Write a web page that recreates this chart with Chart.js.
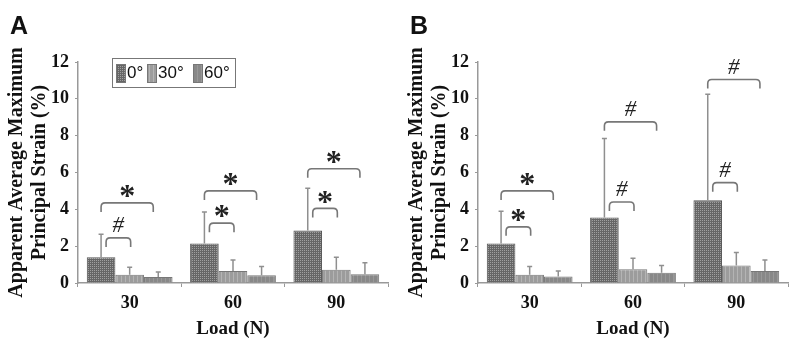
<!DOCTYPE html>
<html>
<head>
<meta charset="utf-8">
<script src="https://cdn.jsdelivr.net/npm/chart.js@4"></script>
<style>
  html, body { margin: 0; padding: 0; background: #fff; }
  #wrap { display: flex; width: 800px; height: 346px; }
  .panel { position: relative; width: 400px; height: 346px; }
  .tag { position: absolute; left: 10px; top: 11px; font: bold 25px "Liberation Sans", Arial, sans-serif; color: #111; }
</style>
</head>
<body>
<div id="wrap">
  <div class="panel"><div class="tag">A</div><canvas id="chartA"></canvas></div>
  <div class="panel"><div class="tag">B</div><canvas id="chartB"></canvas></div>
</div>
<script>
// categories (load, N)
var loads = ['30', '60', '90'];
var angles = ['0°', '30°', '60°'];
var yTicks = [0, 2, 4, 6, 8, 10, 12];

// panel A: means and upper error (SD)
var a0 = [1.4, 2.15, 2.85];
var a0Err = [1.25, 1.7, 2.3];
var a30 = [0.45, 0.65, 0.72];
var a30Err = [0.4, 0.6, 0.68];
var a60 = [0.32, 0.42, 0.48];
var a60Err = [0.28, 0.48, 0.62];

// panel B
var b0 = [2.15, 3.55, 4.5];
var b0Err = [1.75, 4.3, 5.75];
var b30 = [0.45, 0.75, 0.95];
var b30Err = [0.45, 0.6, 0.7];
var b60 = [0.35, 0.55, 0.65];
var b60Err = [0.3, 0.4, 0.6];

// significance brackets: [category, from bar, to bar, y level, mark]
var sigA = [[0, 0, 1, 2.45, '#'], [0, 0, 2, 4.35, '*'],
            [1, 0, 1, 3.25, '*'], [1, 0, 2, 5.0, '*'],
            [2, 0, 1, 4.05, '*'], [2, 0, 2, 6.2, '*']];
var sigB = [[0, 0, 1, 3.05, '*'], [0, 0, 2, 5.0, '*'],
            [1, 0, 1, 4.4, '#'], [1, 0, 2, 8.75, '#'],
            [2, 0, 1, 5.45, '#'], [2, 0, 2, 11.05, '#']];

var serif = '"Liberation Serif", "Times New Roman", serif';

function makePattern(base, light, kind) {
  var c = document.createElement('canvas');
  c.width = 4; c.height = 4;
  var g = c.getContext('2d');
  g.fillStyle = base;
  g.fillRect(0, 0, 4, 4);
  g.fillStyle = light;
  if (kind === 'dots') {
    g.fillRect(0, 0, 1, 1); g.fillRect(2, 2, 1, 1);
    g.fillRect(2, 0, 1, 1); g.fillRect(0, 2, 1, 1);
  } else {
    g.fillRect(1, 0, 1, 4);
  }
  return g.createPattern(c, 'repeat');
}
var fill0 = makePattern('#666', '#a0a0a0', 'dots');
var fill30 = makePattern('#9c9c9c', '#b4b4b4', 'stripes');
var fill60 = makePattern('#888', '#989898', 'stripes');
var fills = [fill0, fill30, fill60];

var errorBars = {
  id: 'errorBars',
  afterDatasetsDraw: function(chart) {
    var ctx = chart.ctx;
    var y = chart.scales.y;
    ctx.save();
    ctx.strokeStyle = '#8f8f8f';
    ctx.lineWidth = 1.5;
    chart.data.datasets.forEach(function(ds, i) {
      var meta = chart.getDatasetMeta(i);
      meta.data.forEach(function(bar, j) {
        var top = y.getPixelForValue(ds.data[j] + ds.err[j]);
        ctx.beginPath();
        ctx.moveTo(bar.x, bar.y);
        ctx.lineTo(bar.x, top);
        ctx.moveTo(bar.x - 2.5, top);
        ctx.lineTo(bar.x + 2.5, top);
        ctx.stroke();
      });
    });
    ctx.restore();
  }
};

var brackets = {
  id: 'brackets',
  afterDatasetsDraw: function(chart, args, opts) {
    var ctx = chart.ctx;
    var y = chart.scales.y;
    ctx.save();
    ctx.strokeStyle = '#777';
    ctx.lineWidth = 1.6;
    opts.list.forEach(function(s) {
      var b1 = chart.getDatasetMeta(s[1]).data[s[0]];
      var b2 = chart.getDatasetMeta(s[2]).data[s[0]];
      var small = s[2] - s[1] === 1;
      var x1 = small ? b1.x + 5 : b1.x;
      var x2 = small ? b2.x + 1 : b2.x - 5;
      var yy = y.getPixelForValue(s[3]);
      var r = 4, drop = 9;
      ctx.beginPath();
      ctx.moveTo(x1, yy + drop);
      ctx.lineTo(x1, yy + r);
      ctx.quadraticCurveTo(x1, yy, x1 + r, yy);
      ctx.lineTo(x2 - r, yy);
      ctx.quadraticCurveTo(x2, yy, x2, yy + r);
      ctx.lineTo(x2, yy + drop);
      ctx.stroke();
      ctx.fillStyle = '#222';
      ctx.textAlign = 'center';
      ctx.textBaseline = 'middle';
      var xm = (x1 + x2) / 2;
      if (s[4] === '*') {
        ctx.font = 'bold 32px ' + serif;
        ctx.fillText('*', xm, yy - 5);
      } else {
        ctx.font = 'italic 23px ' + serif;
        ctx.fillText('#', xm, yy - 12);
      }
    });
    ctx.restore();
  }
};

var legendBox = {
  id: 'legendBox',
  afterDraw: function(chart, args, opts) {
    if (!opts.show) return;
    var ctx = chart.ctx;
    ctx.save();
    ctx.strokeStyle = '#777';
    ctx.lineWidth = 1;
    ctx.strokeRect(112.5, 58.5, 123, 29);
    ctx.font = '17px "Liberation Sans", Arial, sans-serif';
    ctx.textBaseline = 'middle';
    var xs = [116, 147, 193];
    angles.forEach(function(a, i) {
      ctx.fillStyle = fills[i];
      ctx.fillRect(xs[i], 64, 9, 18);
      ctx.strokeStyle = '#777';
      ctx.strokeRect(xs[i] + 0.5, 64.5, 9, 18);
      ctx.fillStyle = '#111';
      ctx.fillText(a, xs[i] + 11, 73);
    });
    ctx.restore();
  }
};

function buildChart(id, d0, e0, d30, e30, d60, e60, sig, showLegend) {
  var vals = [[d0, e0], [d30, e30], [d60, e60]];
  return new Chart(document.getElementById(id), {
    type: 'bar',
    data: {
      labels: loads,
      datasets: vals.map(function(v, i) {
        return {
          label: angles[i],
          data: v[0],
          err: v[1],
          backgroundColor: fills[i],
          borderColor: i === 0 ? '#555' : '#777',
          borderWidth: 1,
          categoryPercentage: 0.83,
          barPercentage: 1
        };
      })
    },
    options: {
      responsive: true,
      maintainAspectRatio: false,
      animation: false,
      layout: { padding: { left: 0, right: 12, top: 62, bottom: 0 } },
      plugins: {
        legend: { display: false },
        tooltip: { enabled: false },
        brackets: { list: sig },
        legendBox: { show: showLegend }
      },
      scales: {
        x: {
          afterFit: function(s) { s.height = 63; },
          border: { color: '#999', width: 1.5 },
          grid: { drawOnChartArea: false, tickLength: 4, color: '#999' },
          ticks: { color: '#111', font: { family: serif, size: 18, weight: 'bold' }, padding: 6 },
          title: { display: true, text: 'Load (N)', color: '#111', font: { family: serif, size: 19, weight: 'bold' }, padding: { top: 0, bottom: 6 } }
        },
        y: {
          min: 0, max: 12,
          afterFit: function(s) { s.width = 78; },
          afterBuildTicks: function(s) { s.ticks = yTicks.map(function(v) { return { value: v }; }); },
          border: { color: '#999', width: 1.5 },
          grid: { drawOnChartArea: false, tickLength: 3, color: '#999' },
          ticks: { color: '#111', font: { family: serif, size: 18, weight: 'bold' }, padding: 6 },
          title: { display: true, text: ['Apparent Average Maximum', 'Principal Strain (%)'], color: '#111', font: { family: serif, size: 20, weight: 'bold', lineHeight: 1.15 }, padding: { top: 5, bottom: 0 } }
        }
      }
    },
    plugins: [errorBars, brackets, legendBox]
  });
}

buildChart('chartA', a0, a0Err, a30, a30Err, a60, a60Err, sigA, true);
buildChart('chartB', b0, b0Err, b30, b30Err, b60, b60Err, sigB, false);
</script>
</body>
</html>
